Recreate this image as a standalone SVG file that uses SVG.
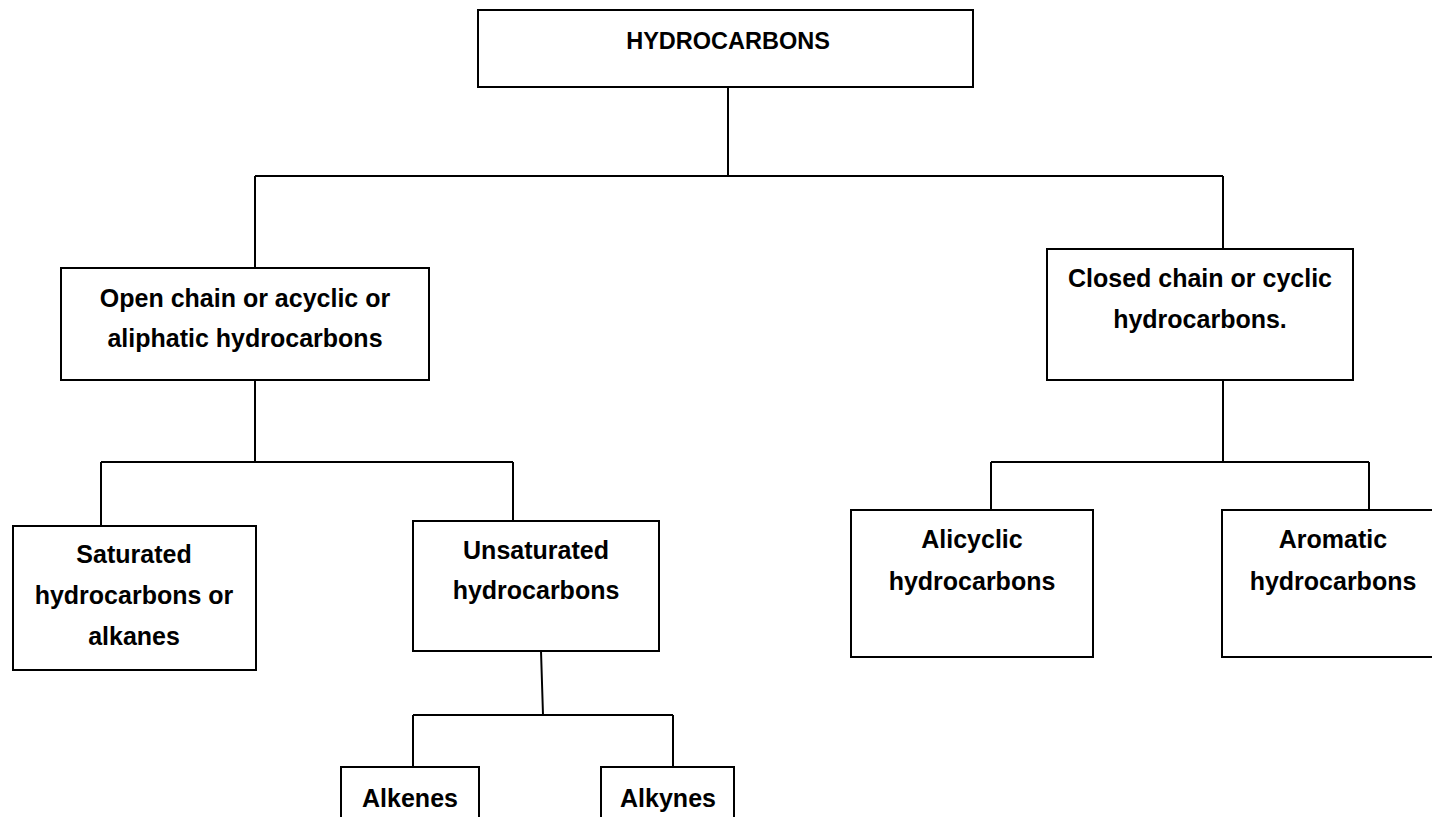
<svg xmlns="http://www.w3.org/2000/svg" width="1432" height="817" viewBox="0 0 1432 817">
<style>
  .box { fill: #ffffff; stroke: #000000; stroke-width: 2; }
  .lbl { font-family: "Liberation Sans", Arial, sans-serif; font-weight: bold; font-size: 25px; fill: #000000; text-anchor: middle; }
  .conn { fill: none; stroke: #000000; stroke-width: 2; }
</style>
<rect x="0" y="0" width="1432" height="817" fill="#ffffff"/>
<g id="connectors">
  <path class="conn" d="M728 87 V176"/>
  <path class="conn" d="M255 176 H1223"/>
  <path class="conn" d="M255 176 V268"/>
  <path class="conn" d="M1223 176 V249"/>
  <path class="conn" d="M255 380 V462"/>
  <path class="conn" d="M101 462 H513"/>
  <path class="conn" d="M101 462 V526"/>
  <path class="conn" d="M513 462 V527"/>
  <path class="conn" d="M541 651 L543 715"/>
  <path class="conn" d="M413 715 H673"/>
  <path class="conn" d="M413 715 V767"/>
  <path class="conn" d="M673 715 V767"/>
  <path class="conn" d="M1223 380 V462"/>
  <path class="conn" d="M991 462 H1369"/>
  <path class="conn" d="M991 462 V510"/>
  <path class="conn" d="M1369 462 V510"/>
</g>
<g id="hydrocarbons">
  <rect class="box" x="478" y="10" width="495" height="77"/>
  <text class="lbl" x="728" y="49" style="font-size:23.5px">HYDROCARBONS</text>
</g>
<g id="open-chain">
  <rect class="box" x="61" y="268" width="368" height="112"/>
  <text class="lbl" x="245" y="307">Open chain or acyclic or</text>
  <text class="lbl" x="245" y="347">aliphatic hydrocarbons</text>
</g>
<g id="closed-chain">
  <rect class="box" x="1047" y="249" width="306" height="131"/>
  <text class="lbl" x="1200" y="287">Closed chain or cyclic</text>
  <text class="lbl" x="1200" y="328">hydrocarbons.</text>
</g>
<g id="saturated">
  <rect class="box" x="13" y="526" width="243" height="144"/>
  <text class="lbl" x="134" y="563">Saturated</text>
  <text class="lbl" x="134" y="604">hydrocarbons or</text>
  <text class="lbl" x="134" y="645">alkanes</text>
</g>
<g id="unsaturated">
  <rect class="box" x="413" y="521" width="246" height="130"/>
  <text class="lbl" x="536" y="559">Unsaturated</text>
  <text class="lbl" x="536" y="599">hydrocarbons</text>
</g>
<g id="alkenes">
  <rect class="box" x="341" y="767" width="138" height="70"/>
  <text class="lbl" x="410" y="807">Alkenes</text>
</g>
<g id="alkynes">
  <rect class="box" x="601" y="767" width="133" height="70"/>
  <text class="lbl" x="668" y="807">Alkynes</text>
</g>
<g id="alicyclic">
  <rect class="box" x="851" y="510" width="242" height="147"/>
  <text class="lbl" x="972" y="548">Alicyclic</text>
  <text class="lbl" x="972" y="590">hydrocarbons</text>
</g>
<g id="aromatic">
  <rect class="box" x="1222" y="510" width="222" height="147"/>
  <text class="lbl" x="1333" y="548">Aromatic</text>
  <text class="lbl" x="1333" y="590">hydrocarbons</text>
</g>
</svg>
